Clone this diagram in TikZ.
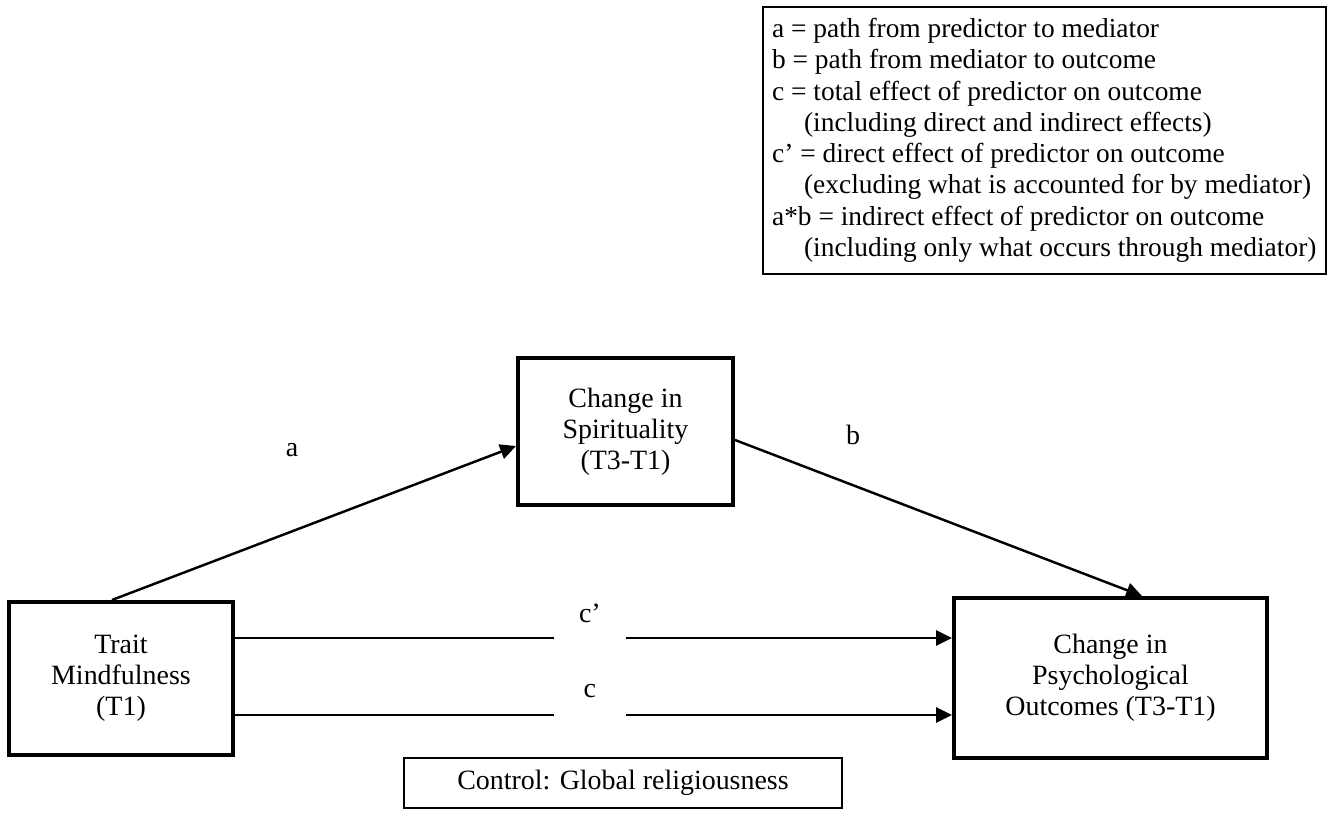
\documentclass[tikz,border=0pt]{standalone}
\usepackage{fontspec}
\setmainfont{Liberation Serif}
\usepackage{tikz}
\usetikzlibrary{calc}
\usetikzlibrary{arrows.meta}
\newcommand{\bodysize}{\fontsize{15.9}{17.6}\selectfont}
\newcommand{\keysize}{\fontsize{15.6}{17.8}\selectfont}
\newcommand{\keyindent}{\hspace*{0.64cm}}

\tikzset{
  varbox/.style={draw, line width=2.3pt, align=center, inner sep=0pt},
  thinbox/.style={draw, line width=0.9pt},
  effect/.style={line width=1.4pt, -{Triangle[length=9pt,width=8.5pt]}},
  gapmask/.style={fill=white, minimum width=1.44cm, minimum height=0.2cm, inner sep=0pt},
}

\begin{document}
\begin{tikzpicture}[every node/.style={font=\bodysize}]
    \useasboundingbox (0,0) rectangle (26.66,16.3);
    % key
    \node[thinbox, anchor=north west, inner sep=0pt, minimum width=11.26cm,
          minimum height=5.34cm, align=left, font=\keysize] (key) at (15.24,16.18)
        {a = path from predictor to mediator\\
         b = path from mediator to outcome\\
         c = total effect of predictor on outcome\\
         \keyindent(including direct and indirect effects)\\
         c’ = direct effect of predictor on outcome\\
         \keyindent(excluding what is accounted for by mediator)\\
         a*b = indirect effect of predictor on outcome\\
         \keyindent(including only what occurs through mediator)};
    % variables
    \node[varbox, minimum width=4.48cm, minimum height=3.06cm] (trait) at (2.42,2.73) {Trait\\Mindfulness\\(T1)};
    \node[varbox, minimum width=4.3cm, minimum height=2.94cm] (spirit) at (12.51,7.67) {Change in\\Spirituality\\(T3-T1)};
    \node[varbox, minimum width=6.26cm, minimum height=3.2cm] (outcome) at (22.21,2.74) {Change in\\Psychological\\Outcomes (T3-T1)};
    \node[thinbox, minimum width=8.76cm, minimum height=1cm] (control) at (12.46,0.64) {Control: Global religiousness};
    % paths
    \draw[effect] ([xshift=-0.18cm]trait.north) -- ([yshift=-0.29cm]spirit.west);
    \draw[effect] ([yshift=-0.17cm]spirit.east) -- ([xshift=0.63cm]outcome.north);
    \node (alabel) at (5.84,7.3) {a};
    \node (blabel) at (17.06,7.6) {b};
    \coordinate (cpstart) at ($(trait.east)+(0,0.81)$);
    \coordinate (cstart) at ($(trait.east)+(0,-0.73)$);
    \draw[effect] (cpstart) -- (cpstart -| outcome.west)
        node[pos=0.495, gapmask, label={[inner sep=0pt, label distance=0.16cm]above:c’}] (cpgap) {};
    \draw[effect] (cstart) -- (cstart -| outcome.west)
        node[pos=0.495, gapmask, label={[inner sep=0pt, label distance=0.2cm]above:c}] (cgap) {};
\end{tikzpicture}
\end{document}
